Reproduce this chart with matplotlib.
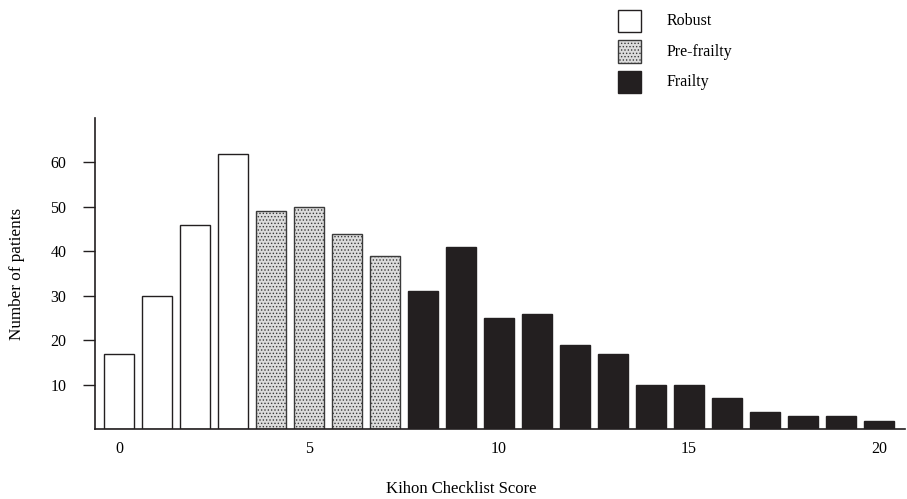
import matplotlib
matplotlib.use("Agg")
import matplotlib.pyplot as plt
from matplotlib.patches import Rectangle

plt.rcParams['font.family'] = ['Liberation Serif', 'DejaVu Serif']
plt.rcParams['hatch.color'] = '#7a7a7a'
plt.rcParams['hatch.linewidth'] = 0.6

scores = list(range(21))
counts = [17, 30, 46, 62, 49, 50, 44, 39, 31, 41, 25, 26, 19, 17, 10, 10, 7, 4, 3, 3, 2]
groups = ['Robust'] * 4 + ['Pre-frailty'] * 4 + ['Frailty'] * 13
group_names = ['Robust', 'Pre-frailty', 'Frailty']
styles = {
    'Robust': dict(facecolor='white', edgecolor='#231f20', hatch=None),
    'Pre-frailty': dict(facecolor='#dcdcdc', edgecolor='#3a3a3a', hatch='.....'),
    'Frailty': dict(facecolor='#231f20', edgecolor='#231f20', hatch=None),
}
xticks = [0, 5, 10, 15, 20]
yticks = [10, 20, 30, 40, 50, 60]

W, H = 907, 499
fig = plt.figure(figsize=(W / 100, H / 100), dpi=100)
ax = fig.add_axes([95 / W, (H - 429.4) / H, 810 / W, 311.4 / H])

for g in group_names:
    xs = [s for s, gg in zip(scores, groups) if gg == g]
    ys = [c for c, gg in zip(counts, groups) if gg == g]
    st = styles[g]
    ax.bar(xs, ys, width=0.79, facecolor=st['facecolor'], edgecolor=st['edgecolor'],
           hatch=st['hatch'], linewidth=1.0)

ax.set_xlim(-0.63, 20.68)
ax.set_ylim(0, 70)
ax.set_xticks(xticks)
ax.set_yticks(yticks)
ax.tick_params(axis='x', length=0, pad=8, labelsize=11.5)
ax.tick_params(axis='y', length=8.6, width=1, pad=12, labelsize=11.5, color='#231f20')
for s in ['top', 'right']:
    ax.spines[s].set_visible(False)
for s in ['left', 'bottom']:
    ax.spines[s].set_linewidth(1.2)
    ax.spines[s].set_color('#231f20')

fig.text(17.5 / W, 1 - 273.5 / H, 'Number of patients', rotation=90,
         ha='center', va='center', fontsize=12.3)
fig.text(461 / W, 1 - 493 / H, 'Kihon Checklist Score', ha='center', va='baseline',
         fontsize=12)

# legend
box_x, box_w, box_h = 618, 23, 22
row_tops = [10, 40.5, 71]
for g, top in zip(group_names, row_tops):
    st = styles[g]
    fig.add_artist(Rectangle((box_x / W, 1 - (top + box_h) / H), box_w / W, box_h / H,
                             transform=fig.transFigure, facecolor=st['facecolor'],
                             edgecolor=st['edgecolor'], hatch=st['hatch'], linewidth=1.0))
    fig.text(667 / W, 1 - (top + box_h / 2) / H, g, ha='left', va='center',
             fontsize=11.5)

fig.savefig('out.png', dpi=100)
